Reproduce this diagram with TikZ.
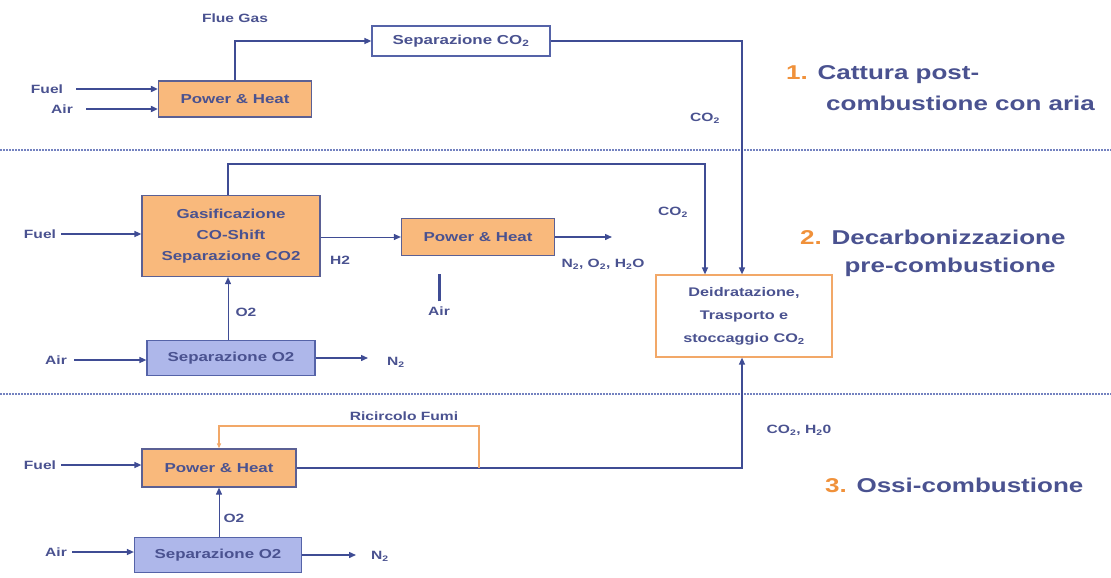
\documentclass[tikz,border=0pt]{standalone}
\usepackage{fontspec}
\setmainfont{Liberation Sans}[FakeStretch=1.3]
\usetikzlibrary{arrows.meta,positioning}
\definecolor{ink}{HTML}{4A5290}
\definecolor{flowblue}{HTML}{3F4C94}
\definecolor{heat}{HTML}{F9B97C}
\definecolor{heatline}{HTML}{5B6094}
\definecolor{sep}{HTML}{AEB7EA}
\definecolor{sepline}{HTML}{5563A8}
\definecolor{store}{HTML}{F2A868}
\definecolor{num}{HTML}{F0913A}
\definecolor{dots}{HTML}{7482C0}

\begin{document}
\begin{tikzpicture}[x=1pt, y=-1pt, text=ink, font=\bfseries\fontsize{13}{21}\selectfont,
  phbox/.style={draw=heatline, fill=heat, line width=1.2pt, minimum height=36pt},
  sepbox/.style={draw=sepline, fill=sep, line width=1.2pt, minimum height=35pt},
  lbl/.style={font=\bfseries\fontsize{12}{14}\selectfont, inner sep=1pt},
  big/.style={font=\bfseries\fontsize{20}{26}\selectfont, anchor=west, inner sep=0pt},
  pipe/.style={draw=flowblue, line width=1.4pt, -{Triangle[length=7pt,width=6pt]}},
  feed/.style={pipe, line width=2.2pt, shorten <=12pt},
  recirc/.style={draw=store, line width=1.4pt, -{Triangle[length=5pt,width=4pt]}},
  divider/.style={draw=dots, line width=1.6pt, dash pattern=on 1.5pt off 1.5pt}]
  \useasboundingbox (0,0) rectangle (1111,578);

  % 1. post-combustione
  \node[phbox, minimum width=153pt] (ph1) at (235,99) {Power \& Heat};
  \node[draw=sepline, fill=white, line width=1.2pt, minimum width=178pt, minimum height=30pt]
    (sepco2) at (461,41) {Separazione CO\textsubscript{2}};
  \node[lbl] (fuel1) at (47,89) {Fuel};
  \node[lbl] (air1) at (62,109) {Air};
  \node[lbl] (flue) at (235,18) {Flue Gas};
  \node[lbl] (co2a) at (705,118) {CO\textsubscript{2}};
  \node[big] (t1) at (786,75) {{\color{num}1.} Cattura post-};
  \node[big] (t1b) at (826,103) {combustione con aria};

  \draw[divider] (0,150) -- (1111,150);

  % 2. pre-combustione
  \node[phbox, minimum width=178pt, minimum height=81pt, align=center] (gas) at (231,236)
    {Gasificazione\\CO-Shift\\Separazione CO2};
  \node[phbox, minimum width=153pt, minimum height=37pt] (ph2) at (478,237) {Power \& Heat};
  \node[sepbox, minimum width=168pt] (sepo2a) at (231,358) {Separazione O2};
  \node[draw=store, fill=white, line width=1.2pt, minimum width=176pt, minimum height=82pt,
    align=center, font=\bfseries\fontsize{12.5}{23}\selectfont] (deid) at (744,316)
    {Deidratazione,\\Trasporto e\\stoccaggio CO\textsubscript{2}};
  \node[lbl] (fuel2) at (40,234) {Fuel};
  \node[lbl] (h2) at (340,260) {H2};
  \node[lbl] (co2b) at (673,212) {CO\textsubscript{2}};
  \node[lbl] (exh) at (603,264) {N\textsubscript{2}, O\textsubscript{2}, H\textsubscript{2}O};
  \node[lbl] (air2) at (439,311) {Air};
  \node[lbl] (o2a) at (246,312) {O2};
  \node[lbl] (air3) at (56,360) {Air};
  \node[lbl] (n2a) at (396,362) {N\textsubscript{2}};
  \node[big] (t2) at (800,237) {{\color{num}2.} Decarbonizzazione};
  \node[big, anchor=center] (t2b) at (950,267) {pre-combustione};

  \draw[divider] (0,394) -- (1111,394);

  % 3. ossi-combustione
  \node[phbox, minimum width=154pt, minimum height=38pt] (ph3) at (219,468) {Power \& Heat};
  \node[sepbox, minimum width=167pt] (sepo2b) at (218,555) {Separazione O2};
  \node[lbl] (fuel3) at (40,465) {Fuel};
  \node[lbl] (ricirc) at (404,416) {Ricircolo Fumi};
  \node[lbl] (co2c) at (799,430) {CO\textsubscript{2}, H\textsubscript{2}0};
  \node[lbl] (o2b) at (234,518) {O2};
  \node[lbl] (air4) at (56,552) {Air};
  \node[lbl] (n2b) at (380,556) {N\textsubscript{2}};
  \node[big] (t3) at (825,485) {{\color{num}3.} Ossi-combustione};

  \coordinate (exhend) at (612,237);
  \coordinate (n2aend) at (368,358);
  \coordinate (n2bend) at (356,555);
  \coordinate (rc) at (479,468);

  % connectors
  \draw[feed] (fuel1.east) -- (fuel1 -| ph1.west);
  \draw[feed] (air1.east) -- (air1 -| ph1.west);
  \draw[pipe] (ph1.north) |- (sepco2.west);
  \draw[pipe] (sepco2.east) -| ([xshift=-2pt]deid.north);

  \draw[pipe, shorten <=4pt] (fuel2.east) -- (fuel2 -| gas.west);
  \draw[pipe, line width=1pt] (gas.east |- ph2) -- (ph2.west);
  \draw[pipe] (ph2.east) -- (exhend);
  \draw[pipe] ([xshift=-3pt]gas.north) -- ++(0,-31) -| ([xshift=-39pt]deid.north);
  \draw[draw=flowblue, line width=3pt, shorten <=4pt] (air2.north) -- ++(0,-31);
  \draw[pipe, line width=1pt] ([xshift=-3pt]gas.south |- sepo2a.north) -- ([xshift=-3pt]gas.south);
  \draw[pipe, shorten <=6pt] (air3.east) -- (air3 -| sepo2a.west);
  \draw[pipe] (sepo2a.east) -- (n2aend);

  \draw[pipe, shorten <=4pt] (fuel3.east) -- (fuel3 -| ph3.west);
  \draw[pipe] (ph3.east) -| ([xshift=-2pt]deid.south);
  \draw[recirc] (rc) -- ++(0,-42) -| (ph3.north);
  \draw[pipe, line width=1pt] (sepo2b.north -| ph3.south) -- (ph3.south);
  \draw[pipe, shorten <=4pt] (air4.east) -- (air4 -| sepo2b.west);
  \draw[pipe] (sepo2b.east) -- (n2bend);
\end{tikzpicture}
\end{document}
